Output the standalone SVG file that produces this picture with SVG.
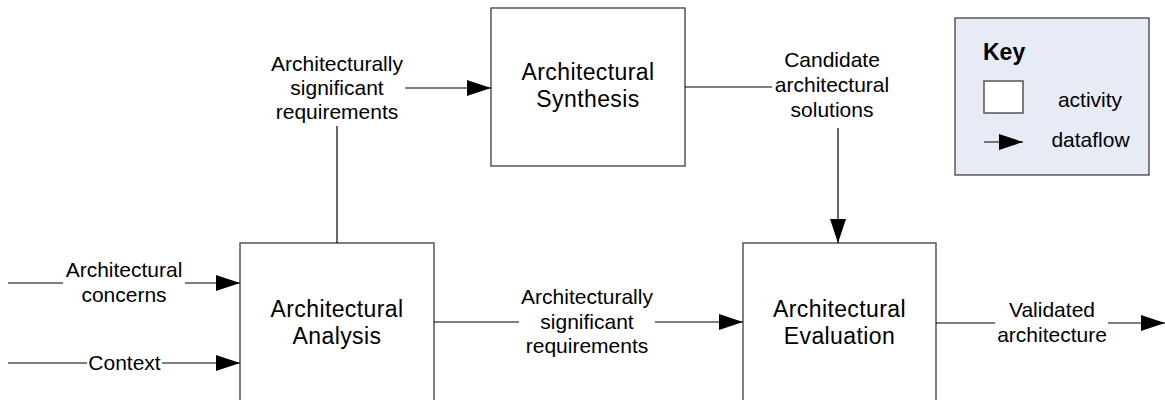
<svg xmlns="http://www.w3.org/2000/svg" width="1165" height="400" viewBox="0 0 1165 400">
<style>
.box{fill:#fff;stroke:#555;stroke-width:1.5}
.bt{font-family:"Liberation Sans",Arial,sans-serif;font-size:23px;letter-spacing:0.4px;text-anchor:middle;fill:#000}
.lb{font-family:"Liberation Sans",Arial,sans-serif;font-size:21px;text-anchor:middle;fill:#000}
.ln{fill:none;stroke:#000;stroke-width:1.2}
</style>
<defs>
<marker id="ah" markerUnits="userSpaceOnUse" markerWidth="24" markerHeight="16" refX="24" refY="8" orient="auto">
<path d="M0,0 L24,8 L0,16 z" fill="#000"/>
</marker>
</defs>
<rect width="1165" height="400" fill="#fff"/>
<g id="synthesis">
<rect class="box" x="491" y="8" width="194" height="158"/>
<text class="bt" x="588" y="80">Architectural</text>
<text class="bt" x="588" y="107">Synthesis</text>
</g>
<g id="analysis">
<rect class="box" x="240" y="243" width="194" height="170"/>
<text class="bt" x="337" y="317">Architectural</text>
<text class="bt" x="337" y="344">Analysis</text>
</g>
<g id="evaluation">
<rect class="box" x="743" y="243" width="193" height="170"/>
<text class="bt" x="839.5" y="317">Architectural</text>
<text class="bt" x="839.5" y="344">Evaluation</text>
</g>
<g id="key">
<rect x="955" y="18" width="194" height="157" fill="#e6ebf5" stroke="#333" stroke-width="1.2"/>
<text x="983" y="60" font-family="'Liberation Sans',Arial,sans-serif" font-size="23" font-weight="bold">Key</text>
<rect class="box" x="984" y="81" width="39" height="32" stroke-width="1.2"/>
<text class="lb" x="1090" y="107">activity</text>
<path class="ln" d="M984,142 H1023" marker-end="url(#ah)"/>
<text class="lb" x="1090.5" y="147">dataflow</text>
</g>
<g id="connectors">
<path class="ln" d="M8,283 H63"/>
<path class="ln" d="M185,283 H240" marker-end="url(#ah)"/>
<text class="lb" x="124" y="277">Architectural</text>
<text class="lb" x="124" y="302">concerns</text>
<path class="ln" d="M8,363 H87"/>
<path class="ln" d="M162,363 H240" marker-end="url(#ah)"/>
<text class="lb" x="124.5" y="370">Context</text>
<path class="ln" d="M337,243 V126"/>
<text class="lb" x="337" y="71">Architecturally</text>
<text class="lb" x="337" y="95">significant</text>
<text class="lb" x="337" y="119">requirements</text>
<path class="ln" d="M405,88 H491" marker-end="url(#ah)"/>
<path class="ln" d="M434,322 H519"/>
<text class="lb" x="587" y="304">Architecturally</text>
<text class="lb" x="587" y="329">significant</text>
<text class="lb" x="587" y="353">requirements</text>
<path class="ln" d="M655,322 H743" marker-end="url(#ah)"/>
<path class="ln" d="M685,87 H772"/>
<text class="lb" x="832" y="67">Candidate</text>
<text class="lb" x="832" y="92">architectural</text>
<text class="lb" x="832" y="117">solutions</text>
<path class="ln" d="M838,128 V243" marker-end="url(#ah)"/>
<path class="ln" d="M936,323 H995"/>
<text class="lb" x="1052" y="317">Validated</text>
<text class="lb" x="1052" y="342">architecture</text>
<path class="ln" d="M1108,323 H1165" marker-end="url(#ah)"/>
</g>
</svg>
